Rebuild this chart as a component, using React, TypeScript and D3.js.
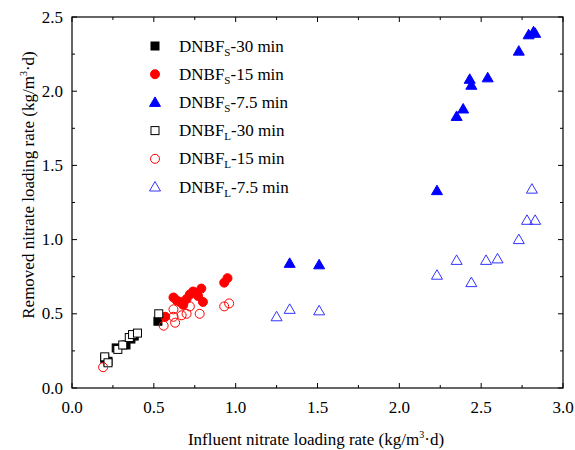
import React from 'react';
import * as d3 from 'd3';

// DNBF_S (filled markers)
const s30x = [0.20, 0.22, 0.27, 0.33, 0.36, 0.38, 0.525];
const s30y = [0.20, 0.18, 0.27, 0.29, 0.33, 0.35, 0.45];
const s15x = [0.57, 0.62, 0.64, 0.66, 0.68, 0.70, 0.72, 0.74, 0.77, 0.79, 0.80, 0.93, 0.95];
const s15y = [0.48, 0.61, 0.59, 0.58, 0.56, 0.60, 0.63, 0.65, 0.62, 0.67, 0.58, 0.71, 0.74];
const s75x = [1.33, 1.51, 2.23, 2.35, 2.39, 2.43, 2.44, 2.54, 2.73, 2.79, 2.82, 2.83];
const s75y = [0.84, 0.83, 1.33, 1.83, 1.88, 2.08, 2.04, 2.09, 2.27, 2.38, 2.40, 2.39];

// DNBF_L (open markers)
const l30x = [0.20, 0.22, 0.28, 0.31, 0.35, 0.37, 0.40, 0.53];
const l30y = [0.21, 0.17, 0.26, 0.29, 0.34, 0.36, 0.37, 0.50];
const l15x = [0.19, 0.56, 0.62, 0.62, 0.63, 0.67, 0.70, 0.72, 0.78, 0.93, 0.96];
const l15y = [0.14, 0.42, 0.53, 0.48, 0.44, 0.49, 0.50, 0.55, 0.50, 0.55, 0.57];
const l75x = [1.25, 1.33, 1.51, 2.23, 2.35, 2.44, 2.53, 2.60, 2.73, 2.78, 2.81, 2.83];
const l75y = [0.48, 0.53, 0.52, 0.76, 0.86, 0.71, 0.86, 0.87, 1.00, 1.13, 1.34, 1.13];

const xTicks = [0, 0.5, 1.0, 1.5, 2.0, 2.5, 3.0];
const yTicks = [0, 0.5, 1.0, 1.5, 2.0, 2.5];

const legendSub = ['S', 'S', 'S', 'L', 'L', 'L'];
const legendTail = ['-30 min', '-15 min', '-7.5 min', '-30 min', '-15 min', '-7.5 min'];

const BLUE = '#0000ff';
const BLUE_OPEN = '#3333ff';
const RED = '#ff0000';
const FONT = 'Liberation Serif';

type Kind = 'square' | 'circle' | 'triangle';

const Marker = ({ kind, x, y, fill, stroke }: { kind: Kind; x: number; y: number; fill: string; stroke: string }) => {
  if (kind === 'square') {
    return <rect x={x - 4} y={y - 4} width={8} height={8} fill={fill} stroke={stroke} strokeWidth={1} />;
  }
  if (kind === 'circle') {
    return <circle cx={x} cy={y} r={4.5} fill={fill} stroke={stroke} strokeWidth={1} />;
  }
  const p = `M${x},${y - 5.5}L${x + 5.5},${y + 4}L${x - 5.5},${y + 4}Z`;
  return <path d={p} fill={fill} stroke={stroke} strokeWidth={1} />;
};

const series = [
  { xs: s30x, ys: s30y, kind: 'square' as Kind, fill: '#000', stroke: '#000' },
  { xs: s15x, ys: s15y, kind: 'circle' as Kind, fill: RED, stroke: RED },
  { xs: s75x, ys: s75y, kind: 'triangle' as Kind, fill: BLUE, stroke: BLUE },
  { xs: l30x, ys: l30y, kind: 'square' as Kind, fill: 'white', stroke: '#000' },
  { xs: l15x, ys: l15y, kind: 'circle' as Kind, fill: 'none', stroke: RED },
  { xs: l75x, ys: l75y, kind: 'triangle' as Kind, fill: 'none', stroke: BLUE_OPEN },
];

export default function App() {
  const W = 575;
  const H = 450;
  const left = 72;
  const right = 563;
  const top = 17;
  const bottom = 388;

  const x = d3.scaleLinear().domain([0, 3]).range([left, right]);
  const y = d3.scaleLinear().domain([0, 2.5]).range([bottom, top]);

  const xMinor = d3.range(0.25, 3, 0.5);
  const yMinor = d3.range(0.25, 2.5, 0.5);
  const tf = { fontFamily: FONT };

  return (
    <svg width={W} height={H} style={{ position: 'absolute', left: 0, top: 0, background: 'white', fontFamily: FONT }}>
      <rect x={0} y={0} width={W} height={H} fill="white" />
      {/* ticks (inward) */}
      {xTicks.map((t) => (
        <g key={'xt' + t}>
          <line x1={x(t)} x2={x(t)} y1={bottom} y2={bottom - 5} stroke="#000" />
          <line x1={x(t)} x2={x(t)} y1={top} y2={top + 5} stroke="#000" />
          <text x={x(t)} y={413} textAnchor="middle" fontSize={17} style={tf}>{t.toFixed(1)}</text>
        </g>
      ))}
      {xMinor.map((t) => (
        <g key={'xm' + t}>
          <line x1={x(t)} x2={x(t)} y1={bottom} y2={bottom - 3} stroke="#000" />
          <line x1={x(t)} x2={x(t)} y1={top} y2={top + 3} stroke="#000" />
        </g>
      ))}
      {yTicks.map((t) => (
        <g key={'yt' + t}>
          <line x1={left} x2={left + 5} y1={y(t)} y2={y(t)} stroke="#000" />
          <line x1={right} x2={right - 5} y1={y(t)} y2={y(t)} stroke="#000" />
          <text x={63} y={y(t) + 5.5} textAnchor="end" fontSize={17} style={tf}>{t.toFixed(1)}</text>
        </g>
      ))}
      {yMinor.map((t) => (
        <g key={'ym' + t}>
          <line x1={left} x2={left + 3} y1={y(t)} y2={y(t)} stroke="#000" />
          <line x1={right} x2={right - 3} y1={y(t)} y2={y(t)} stroke="#000" />
        </g>
      ))}
      <rect x={left} y={top} width={right - left} height={bottom - top} fill="none" stroke="#000" strokeWidth={1.2} />

      {/* points */}
      {series.map((s, si) => (
        <g key={'s' + si}>
          {s.xs.map((v, i) => (
            <Marker key={i} kind={s.kind} x={x(v)} y={y(s.ys[i])} fill={s.fill} stroke={s.stroke} />
          ))}
        </g>
      ))}

      {/* legend */}
      {series.map((s, i) => {
        const ly = 46 + i * 28.2;
        return (
          <g key={'lg' + i}>
            <Marker kind={s.kind} x={155} y={ly} fill={s.fill} stroke={s.stroke} />
            <text x={179} y={ly + 5.5} fontSize={17} style={tf}>
              DNBF
              <tspan fontSize={11} dy={4}>{legendSub[i]}</tspan>
              <tspan dy={-4}>{legendTail[i]}</tspan>
            </text>
          </g>
        );
      })}

      {/* axis titles */}
      <text x={316} y={445} textAnchor="middle" fontSize={17} style={tf}>
        Influent nitrate loading rate (kg/m
        <tspan fontSize={10} dy={-7}>3</tspan>
        <tspan dy={7}>·d)</tspan>
      </text>
      <text transform="translate(34,185) rotate(-90)" textAnchor="middle" fontSize={17} style={tf}>
        Removed nitrate loading rate (kg/m
        <tspan fontSize={10} dy={-7}>3</tspan>
        <tspan dy={7}>·d)</tspan>
      </text>
    </svg>
  );
}
